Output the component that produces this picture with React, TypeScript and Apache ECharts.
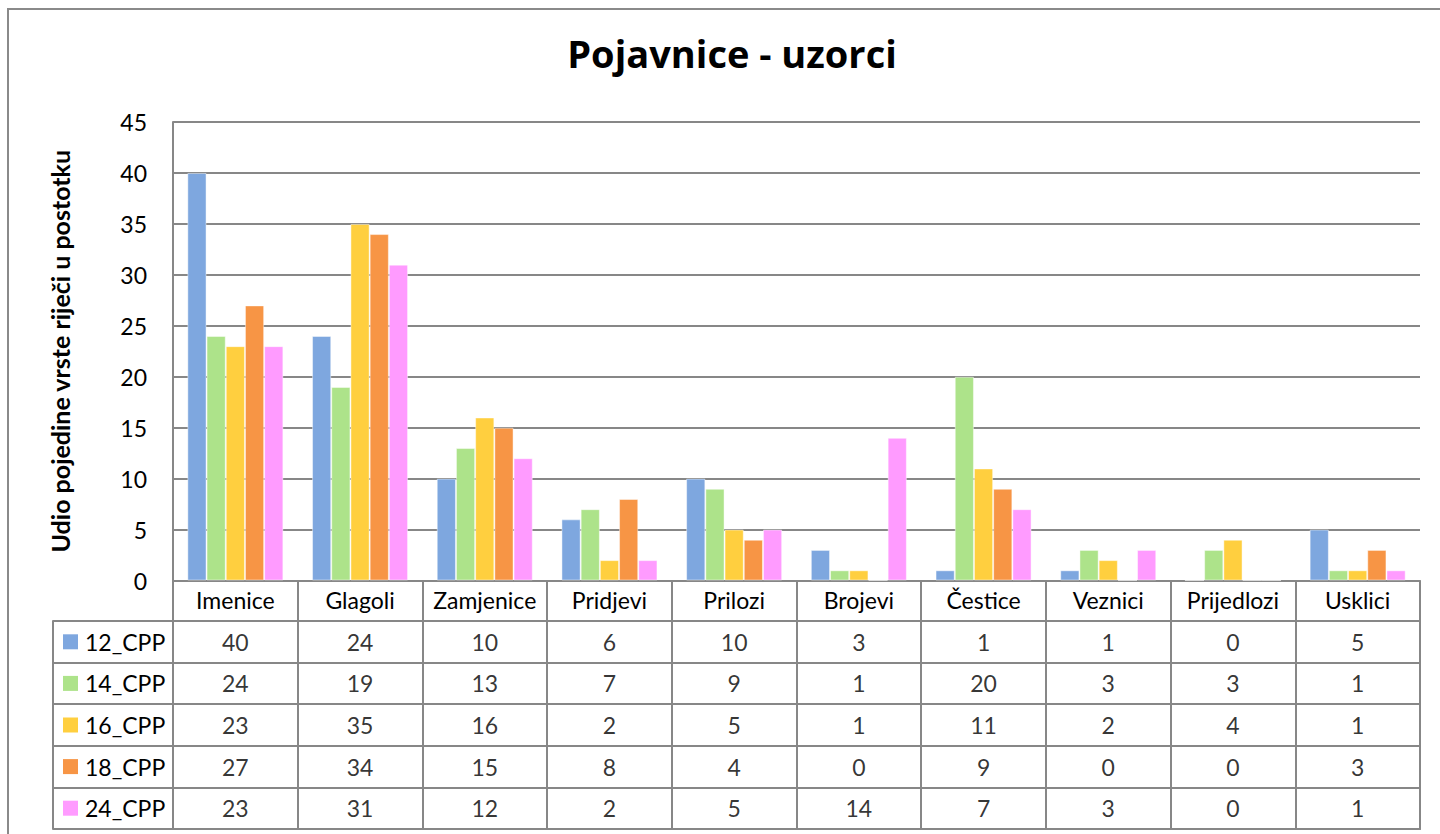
import React, { useEffect, useRef } from 'react';
import * as echarts from 'echarts';

const categories = ['Imenice', 'Glagoli', 'Zamjenice', 'Pridjevi', 'Prilozi', 'Brojevi', 'Čestice', 'Veznici', 'Prijedlozi', 'Usklici'];
const seriesNames = ['12_CPP', '14_CPP', '16_CPP', '18_CPP', '24_CPP'];
const cpp12 = [40, 24, 10, 6, 10, 3, 1, 1, 0, 5];
const cpp14 = [24, 19, 13, 7, 9, 1, 20, 3, 3, 1];
const cpp16 = [23, 35, 16, 2, 5, 1, 11, 2, 4, 1];
const cpp18 = [27, 34, 15, 8, 4, 0, 9, 0, 0, 3];
const cpp24 = [23, 31, 12, 2, 5, 14, 7, 3, 0, 1];
const seriesValues = [cpp12, cpp14, cpp16, cpp18, cpp24];
const colors = ['#7EA7DF', '#ADE38A', '#FFCF3F', '#F79545', '#FF9BFF'];
const yMin = 0;
const yMax = 45;
const yInterval = 5;

const titleText = 'Pojavnice - uzorci';
const yAxisName = 'Udio pojedine vrste riječi u postotku';

const FONT = 'Lato, "Open Sans", sans-serif';
const TITLE_FONT = '"Open Sans", Lato, sans-serif';
const GRAY = '#878787';

export default function App() {
  const ref = useRef<HTMLDivElement>(null);
  useEffect(() => {
    if (!ref.current) return;
    const chart = echarts.init(ref.current, null, { renderer: 'svg' });
    const rich: any = {
      t: { fontSize: 23, fontFamily: FONT, color: '#000', padding: [0, 0, 0, 7] },
    };
    colors.forEach((c, i) => {
      rich['k' + i] = { width: 15, height: 15, backgroundColor: c };
    });

    const option: any = {
      animation: false,
      backgroundColor: '#fff',
      title: {
        text: titleText,
        left: 727,
        top: 29,
        textAlign: 'center',
        textStyle: { fontFamily: TITLE_FONT, fontSize: 38, fontWeight: 'bold', color: '#000' },
      },
      graphic: [
        {
          type: 'rect',
          shape: { x: 8, y: 9, width: 1450, height: 840 },
          style: { fill: 'none', stroke: '#8a8a8a', lineWidth: 2 },
          silent: true,
          z: 100,
        },
      ],
      grid: [
        { left: 173, top: 122, width: 1247, height: 458.5 },
        { left: 173, top: 621, width: 1247, height: 208 },
      ],
      xAxis: [
        {
          gridIndex: 0,
          type: 'category',
          data: categories,
          axisLine: { show: true, lineStyle: { color: GRAY, width: 2 } },
          axisTick: { show: true, length: 41, interval: 0, lineStyle: { color: GRAY, width: 2 } },
          axisLabel: { fontSize: 23, fontFamily: FONT, color: '#000', margin: 8, interval: 0 },
          splitLine: { show: false },
        },
        {
          gridIndex: 1,
          type: 'category',
          data: categories,
          position: 'top',
          axisLine: { show: true, lineStyle: { color: GRAY, width: 2 } },
          axisTick: { show: false },
          axisLabel: { show: false },
          splitLine: { show: true, interval: 0, lineStyle: { color: GRAY, width: 2 } },
        },
        {
          gridIndex: 1,
          type: 'category',
          data: categories,
          position: 'bottom',
          axisLine: { show: true, lineStyle: { color: GRAY, width: 2 } },
          axisTick: { show: false },
          axisLabel: { show: false },
          splitLine: { show: false },
        },
      ],
      yAxis: [
        {
          gridIndex: 0,
          type: 'value',
          min: yMin,
          max: yMax,
          interval: yInterval,
          name: yAxisName,
          nameLocation: 'middle',
          nameRotate: 90,
          nameGap: 101,
          nameTextStyle: { fontFamily: FONT, fontSize: 25, fontWeight: 'bold', color: '#000' },
          axisLine: { show: true, lineStyle: { color: GRAY, width: 2 } },
          axisTick: { show: false },
          axisLabel: { fontSize: 23, fontFamily: FONT, color: '#000', margin: 26 },
          splitLine: { show: true, lineStyle: { color: GRAY, width: 2 } },
        },
        {
          gridIndex: 1,
          type: 'category',
          data: seriesNames,
          inverse: true,
          axisLine: { show: true, lineStyle: { color: GRAY, width: 2 } },
          axisTick: { show: true, length: 120, interval: 0, lineStyle: { color: GRAY, width: 2 } },
          axisLabel: {
            align: 'left',
            margin: 110,
            interval: 0,
            formatter: (v: string, i: number) => `{k${i}|}{t|${v}}`,
            rich,
          },
          splitLine: { show: true, interval: 0, lineStyle: { color: GRAY, width: 2 } },
        },
        {
          gridIndex: 1,
          type: 'category',
          data: seriesNames,
          position: 'left',
          offset: 120,
          axisLine: { show: true, lineStyle: { color: GRAY, width: 2 } },
          axisTick: { show: false },
          axisLabel: { show: false },
        },
        {
          gridIndex: 1,
          type: 'category',
          data: seriesNames,
          position: 'right',
          axisLine: { show: true, lineStyle: { color: GRAY, width: 2 } },
          axisTick: { show: false },
          axisLabel: { show: false },
        },
      ],
      series: [
        ...seriesValues.map((vals, s) => ({
          name: seriesNames[s],
          type: 'bar',
          xAxisIndex: 0,
          yAxisIndex: 0,
          data: vals,
          barGap: '0%',
          barCategoryGap: '23%',
          itemStyle: { color: colors[s], borderColor: 'rgba(255,255,255,0.45)', borderWidth: 1 },
        })),
        ...seriesValues.map((vals, s) => ({
          name: seriesNames[s] + ' table',
          type: 'scatter',
          xAxisIndex: 1,
          yAxisIndex: 1,
          symbolSize: 1,
          itemStyle: { color: 'rgba(0,0,0,0)' },
          silent: true,
          data: vals.map((v, i) => [i, s, v]),
          label: {
            show: true,
            position: 'inside',
            formatter: (p: any) => String(p.value[2]),
            fontSize: 23,
            fontFamily: FONT,
            color: '#000',
          },
        })),
      ],
    };
    chart.setOption(option);
    return () => chart.dispose();
  }, []);
  return <div ref={ref} style={{ position: 'absolute', left: 0, top: 0, width: 1440, height: 834 }} />;
}
